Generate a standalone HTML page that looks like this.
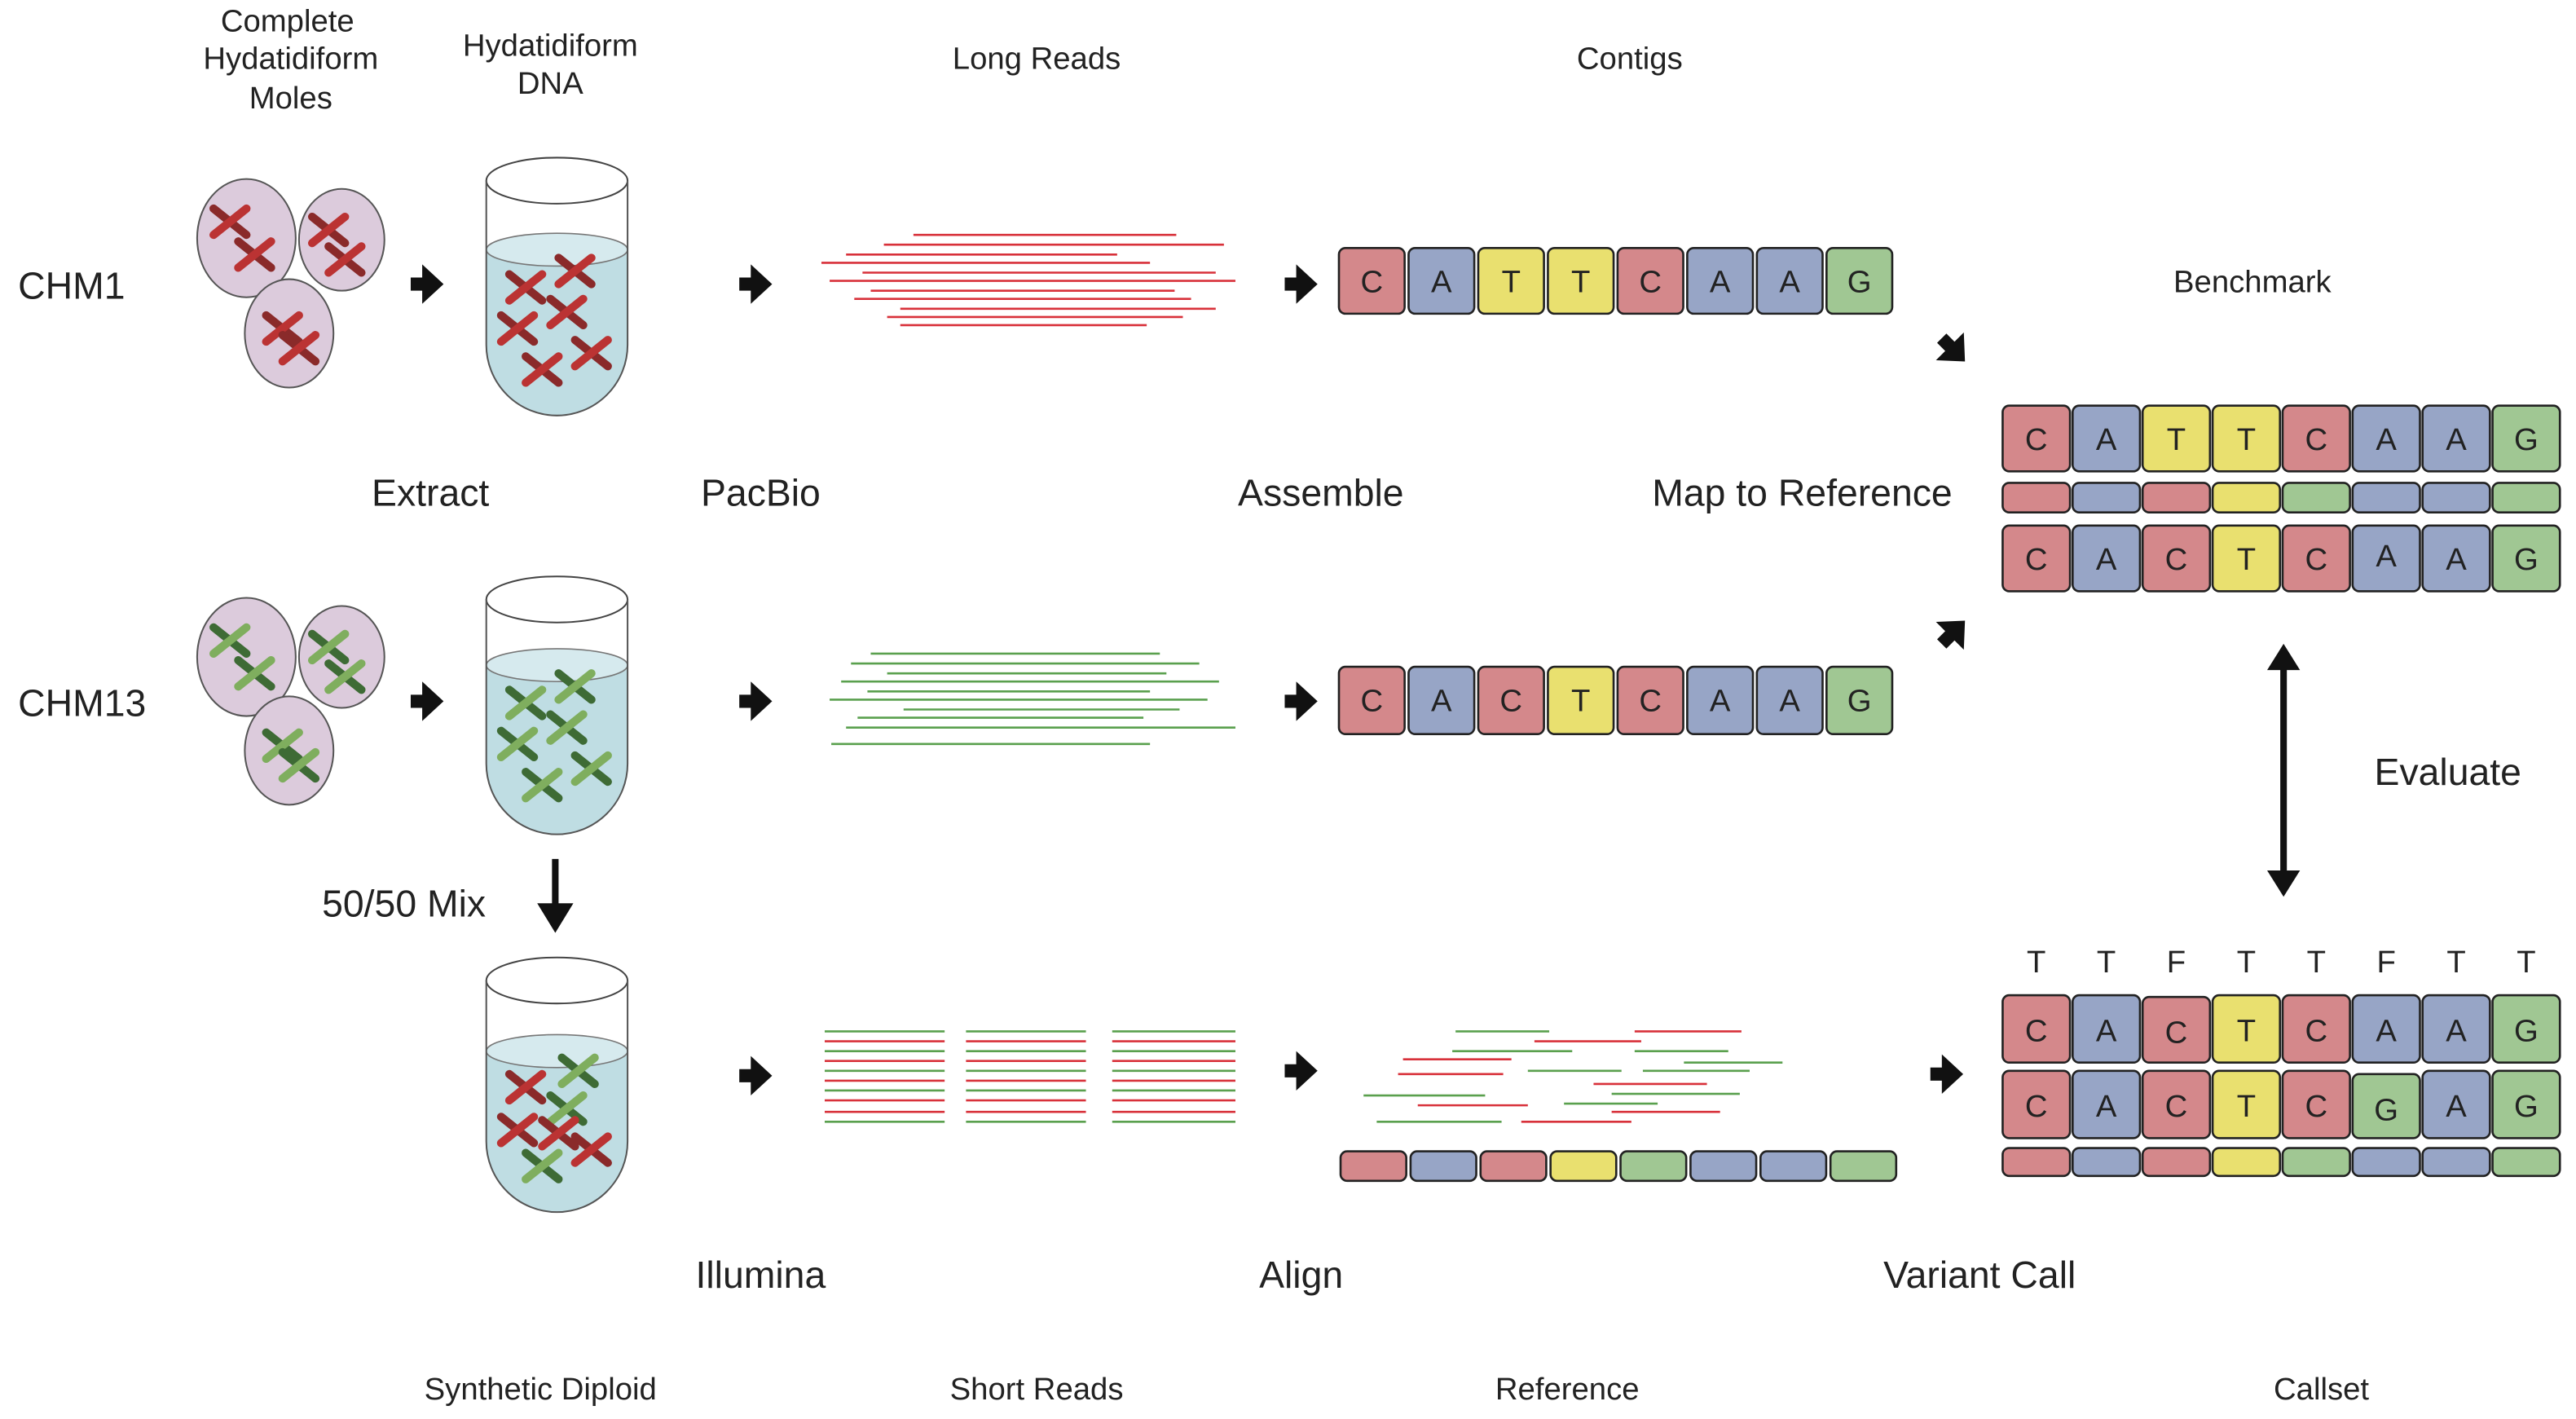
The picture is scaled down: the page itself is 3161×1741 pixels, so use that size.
<!DOCTYPE html>
<html><head><meta charset="utf-8"><style>
html,body{margin:0;padding:0;background:#fff;}
svg{display:block;}
text{font-family:"Liberation Sans",sans-serif;fill:#222;}
.l{font-size:23px;text-anchor:middle;}
.s{font-size:19px;text-anchor:middle;}
.c{font-size:19px;text-anchor:middle;fill:#222;}
.r{fill:#d4888b;stroke:#222;stroke-width:1.3;}
.b{fill:#97a5c6;stroke:#222;stroke-width:1.3;}
.y{fill:#e9e06f;stroke:#222;stroke-width:1.3;}
.g{fill:#a0c793;stroke:#222;stroke-width:1.3;}
.rd line{stroke:#d8313a;stroke-width:1.3;}
.gr line{stroke:#5aa04e;stroke-width:1.3;}
.mole{fill:#dccbdc;stroke:#555;stroke-width:1;}
.tube{fill:none;stroke:#555;stroke-width:1;}
</style></head><body>
<svg width="3161" height="1741" viewBox="0 0 1568 864" preserveAspectRatio="none" xmlns="http://www.w3.org/2000/svg">
<defs>
<path id="ar" d="M-10,-4 H-3 V-12 L10,0 L-3,12 V4 H-10 Z" fill="#111"/>
<g id="chR">
<line x1="-10" y1="-8" x2="10" y2="8" stroke="#8a2a2a" stroke-width="5" stroke-linecap="round"/>
<line x1="-10" y1="8" x2="10" y2="-8" stroke="#b33" stroke-width="5" stroke-linecap="round"/>
</g>
<g id="chG">
<line x1="-10" y1="-8" x2="10" y2="8" stroke="#3e6b35" stroke-width="5" stroke-linecap="round"/>
<line x1="-10" y1="8" x2="10" y2="-8" stroke="#7fae5e" stroke-width="5" stroke-linecap="round"/>
</g>
</defs>

<!-- headers -->
<text class="s" x="175" y="19">Complete</text>
<text class="s" x="177" y="42">Hydatidiform</text>
<text class="s" x="177" y="66">Moles</text>
<text class="s" x="335" y="34">Hydatidiform</text>
<text class="s" x="335" y="57">DNA</text>
<text class="s" x="631" y="42">Long Reads</text>
<text class="s" x="992" y="42">Contigs</text>
<text x="11" y="182" style="font-size:23px">CHM1</text>
<text x="11" y="436" style="font-size:23px">CHM13</text>
<text class="s" x="1371" y="178">Benchmark</text>
<text class="l" x="262" y="308">Extract</text>
<text class="l" x="463" y="308">PacBio</text>
<text class="l" x="804" y="308">Assemble</text>
<text class="l" x="1097" y="308">Map to Reference</text>
<text x="196" y="558" style="font-size:23px">50/50 Mix</text>
<text class="l" x="1490" y="478">Evaluate</text>
<text class="l" x="463" y="784">Illumina</text>
<text class="l" x="792" y="784">Align</text>
<text class="l" x="1205" y="784">Variant Call</text>
<text class="s" x="329" y="852">Synthetic Diploid</text>
<text class="s" x="631" y="852">Short Reads</text>
<text class="s" x="954" y="852">Reference</text>
<text class="s" x="1413" y="852">Callset</text>

<!-- moles CHM1 -->
<ellipse class="mole" cx="150" cy="145" rx="30" ry="36"/>
<ellipse class="mole" cx="208" cy="146" rx="26" ry="31"/>
<ellipse class="mole" cx="176" cy="203" rx="27" ry="33"/>
<use href="#chR" x="140" y="135"/><use href="#chR" x="155" y="155"/><use href="#chR" x="200" y="140"/><use href="#chR" x="210" y="158"/><use href="#chR" x="172" y="200"/><use href="#chR" x="182" y="212"/>
<!-- moles CHM13 -->
<ellipse class="mole" cx="150" cy="400" rx="30" ry="36"/>
<ellipse class="mole" cx="208" cy="400" rx="26" ry="31"/>
<ellipse class="mole" cx="176" cy="457" rx="27" ry="33"/>
<use href="#chG" x="140" y="390"/><use href="#chG" x="155" y="410"/><use href="#chG" x="200" y="394"/><use href="#chG" x="210" y="412"/><use href="#chG" x="172" y="454"/><use href="#chG" x="182" y="466"/>

<!-- tubes -->
<g>
<path d="M296,152 V210 A43,43 0 0 0 382,210 V152 Z" fill="#bfdde3"/>
<ellipse cx="339" cy="152" rx="43" ry="10" fill="#d6eaee" stroke="#777" stroke-width="0.8"/>
<use href="#chR" x="320" y="175"/><use href="#chR" x="345" y="190"/><use href="#chR" x="360" y="215"/><use href="#chR" x="330" y="225"/><use href="#chR" x="315" y="200"/><use href="#chR" x="350" y="165"/>
<ellipse cx="339" cy="110" rx="43" ry="14" fill="#fff" stroke="#444" stroke-width="1"/>
<path class="tube" d="M296,110 V210 A43,43 0 0 0 382,210 V110"/>
</g>
<g>
<path d="M296,405 V465 A43,43 0 0 0 382,465 V405 Z" fill="#bfdde3"/>
<ellipse cx="339" cy="405" rx="43" ry="10" fill="#d6eaee" stroke="#777" stroke-width="0.8"/>
<use href="#chG" x="320" y="428"/><use href="#chG" x="345" y="443"/><use href="#chG" x="360" y="468"/><use href="#chG" x="330" y="478"/><use href="#chG" x="315" y="453"/><use href="#chG" x="350" y="418"/>
<ellipse cx="339" cy="365" rx="43" ry="14" fill="#fff" stroke="#444" stroke-width="1"/>
<path class="tube" d="M296,365 V465 A43,43 0 0 0 382,465 V365"/>
</g>
<g>
<path d="M296,640 V695 A43,43 0 0 0 382,695 V640 Z" fill="#bfdde3"/>
<ellipse cx="339" cy="640" rx="43" ry="10" fill="#d6eaee" stroke="#777" stroke-width="0.8"/>
<use href="#chR" x="320" y="662"/><use href="#chG" x="345" y="675"/><use href="#chR" x="360" y="700"/><use href="#chG" x="330" y="710"/><use href="#chR" x="315" y="688"/><use href="#chG" x="352" y="652"/><use href="#chR" x="340" y="690"/>
<ellipse cx="339" cy="597" rx="43" ry="14" fill="#fff" stroke="#444" stroke-width="1"/>
<path class="tube" d="M296,597 V695 A43,43 0 0 0 382,695 V597"/>
</g>

<!-- arrows -->
<use href="#ar" x="260" y="173"/><use href="#ar" x="460" y="173"/><use href="#ar" x="792" y="173"/>
<use href="#ar" x="260" y="427"/><use href="#ar" x="460" y="427"/><use href="#ar" x="792" y="427"/>
<use href="#ar" x="460" y="655"/><use href="#ar" x="792" y="652"/><use href="#ar" x="1185" y="654"/>
<use href="#ar" transform="translate(1189,213) rotate(45)"/>
<use href="#ar" transform="translate(1189,385) rotate(-45)"/>
<path d="M336,523 H340 V550 H349 L338,568 L327,550 H336 Z" fill="#111"/>
<path d="M1388,408 V530 H1380 L1390,546 L1400,530 H1392 V408 H1400 L1390,392 L1380,408 Z" fill="#111"/>

<!-- long reads red -->
<g class="rd">
<line x1="556" y1="143" x2="716" y2="143"/><line x1="538" y1="149" x2="745" y2="149"/><line x1="515" y1="155" x2="680" y2="155"/><line x1="500" y1="160" x2="700" y2="160"/><line x1="525" y1="166" x2="740" y2="166"/><line x1="505" y1="171" x2="752" y2="171"/><line x1="530" y1="177" x2="715" y2="177"/><line x1="520" y1="182" x2="725" y2="182"/><line x1="548" y1="188" x2="740" y2="188"/><line x1="540" y1="193" x2="720" y2="193"/><line x1="548" y1="198" x2="698" y2="198"/>
</g>
<g class="gr">
<line x1="530" y1="398" x2="706" y2="398"/><line x1="518" y1="404" x2="730" y2="404"/><line x1="540" y1="410" x2="710" y2="410"/><line x1="512" y1="415" x2="742" y2="415"/><line x1="528" y1="421" x2="700" y2="421"/><line x1="505" y1="426" x2="735" y2="426"/><line x1="550" y1="432" x2="718" y2="432"/><line x1="522" y1="437" x2="696" y2="437"/><line x1="515" y1="443" x2="752" y2="443"/><line x1="506" y1="453" x2="700" y2="453"/>
</g>

<!-- short reads -->
<g class="gr">
<line x1="502" y1="628" x2="575" y2="628"/><line x1="502" y1="640" x2="575" y2="640"/><line x1="502" y1="652" x2="575" y2="652"/><line x1="502" y1="664" x2="575" y2="664"/><line x1="502" y1="683" x2="575" y2="683"/>
<line x1="588" y1="628" x2="661" y2="628"/><line x1="588" y1="640" x2="661" y2="640"/><line x1="588" y1="652" x2="661" y2="652"/><line x1="588" y1="664" x2="661" y2="664"/><line x1="588" y1="683" x2="661" y2="683"/>
<line x1="677" y1="628" x2="752" y2="628"/><line x1="677" y1="640" x2="752" y2="640"/><line x1="677" y1="652" x2="752" y2="652"/><line x1="677" y1="664" x2="752" y2="664"/><line x1="677" y1="683" x2="752" y2="683"/>
</g>
<g class="rd">
<line x1="502" y1="634" x2="575" y2="634"/><line x1="502" y1="646" x2="575" y2="646"/><line x1="502" y1="658" x2="575" y2="658"/><line x1="502" y1="670" x2="575" y2="670"/><line x1="502" y1="677" x2="575" y2="677"/>
<line x1="588" y1="634" x2="661" y2="634"/><line x1="588" y1="646" x2="661" y2="646"/><line x1="588" y1="658" x2="661" y2="658"/><line x1="588" y1="670" x2="661" y2="670"/><line x1="588" y1="677" x2="661" y2="677"/>
<line x1="677" y1="634" x2="752" y2="634"/><line x1="677" y1="646" x2="752" y2="646"/><line x1="677" y1="658" x2="752" y2="658"/><line x1="677" y1="670" x2="752" y2="670"/><line x1="677" y1="677" x2="752" y2="677"/>
</g>

<!-- aligned reads -->
<g class="gr">
<line x1="886" y1="628" x2="943" y2="628"/><line x1="884" y1="640" x2="957" y2="640"/><line x1="995" y1="640" x2="1052" y2="640"/><line x1="1025" y1="647" x2="1085" y2="647"/><line x1="930" y1="652" x2="987" y2="652"/><line x1="1000" y1="652" x2="1065" y2="652"/><line x1="830" y1="667" x2="904" y2="667"/><line x1="981" y1="666" x2="1059" y2="666"/><line x1="952" y1="672" x2="1009" y2="672"/><line x1="838" y1="683" x2="914" y2="683"/>
</g>
<g class="rd">
<line x1="995" y1="628" x2="1060" y2="628"/><line x1="934" y1="634" x2="999" y2="634"/><line x1="854" y1="645" x2="920" y2="645"/><line x1="851" y1="654" x2="915" y2="654"/><line x1="970" y1="660" x2="1039" y2="660"/><line x1="863" y1="673" x2="930" y2="673"/><line x1="981" y1="677" x2="1047" y2="677"/><line x1="926" y1="683" x2="993" y2="683"/>
</g>

<!-- CHM1 contig -->
<g>
<rect class="r" x="815" y="151" width="40" height="40" rx="4"/><rect class="b" x="857.4" y="151" width="40" height="40" rx="4"/><rect class="y" x="899.8" y="151" width="40" height="40" rx="4"/><rect class="y" x="942.2" y="151" width="40" height="40" rx="4"/><rect class="r" x="984.6" y="151" width="40" height="40" rx="4"/><rect class="b" x="1027" y="151" width="40" height="40" rx="4"/><rect class="b" x="1069.4" y="151" width="40" height="40" rx="4"/><rect class="g" x="1111.8" y="151" width="40" height="40" rx="4"/>
<text class="c" x="835" y="178">C</text><text class="c" x="877.4" y="178">A</text><text class="c" x="919.8" y="178">T</text><text class="c" x="962.2" y="178">T</text><text class="c" x="1004.6" y="178">C</text><text class="c" x="1047" y="178">A</text><text class="c" x="1089.4" y="178">A</text><text class="c" x="1131.8" y="178">G</text>
</g>
<!-- CHM13 contig -->
<g>
<rect class="r" x="815" y="406" width="40" height="41" rx="4"/><rect class="b" x="857.4" y="406" width="40" height="41" rx="4"/><rect class="r" x="899.8" y="406" width="40" height="41" rx="4"/><rect class="y" x="942.2" y="406" width="40" height="41" rx="4"/><rect class="r" x="984.6" y="406" width="40" height="41" rx="4"/><rect class="b" x="1027" y="406" width="40" height="41" rx="4"/><rect class="b" x="1069.4" y="406" width="40" height="41" rx="4"/><rect class="g" x="1111.8" y="406" width="40" height="41" rx="4"/>
<text class="c" x="835" y="433">C</text><text class="c" x="877.4" y="433">A</text><text class="c" x="919.8" y="433">C</text><text class="c" x="962.2" y="433">T</text><text class="c" x="1004.6" y="433">C</text><text class="c" x="1047" y="433">A</text><text class="c" x="1089.4" y="433">A</text><text class="c" x="1131.8" y="433">G</text>
</g>
<!-- reference bar -->
<g>
<rect class="r" x="816" y="701" width="40" height="18" rx="4"/><rect class="b" x="858.6" y="701" width="40" height="18" rx="4"/><rect class="r" x="901.2" y="701" width="40" height="18" rx="4"/><rect class="y" x="943.8" y="701" width="40" height="18" rx="4"/><rect class="g" x="986.4" y="701" width="40" height="18" rx="4"/><rect class="b" x="1029" y="701" width="40" height="18" rx="4"/><rect class="b" x="1071.6" y="701" width="40" height="18" rx="4"/><rect class="g" x="1114.2" y="701" width="40" height="18" rx="4"/>
</g>

<!-- Benchmark -->
<g>
<rect class="r" x="1219" y="247" width="41" height="40" rx="4"/><rect class="b" x="1261.6" y="247" width="41" height="40" rx="4"/><rect class="y" x="1304.2" y="247" width="41" height="40" rx="4"/><rect class="y" x="1346.8" y="247" width="41" height="40" rx="4"/><rect class="r" x="1389.4" y="247" width="41" height="40" rx="4"/><rect class="b" x="1432" y="247" width="41" height="40" rx="4"/><rect class="b" x="1474.6" y="247" width="41" height="40" rx="4"/><rect class="g" x="1517.2" y="247" width="41" height="40" rx="4"/>
<text class="c" x="1239.5" y="274">C</text><text class="c" x="1282.1" y="274">A</text><text class="c" x="1324.7" y="274">T</text><text class="c" x="1367.3" y="274">T</text><text class="c" x="1409.9" y="274">C</text><text class="c" x="1452.5" y="274">A</text><text class="c" x="1495.1" y="274">A</text><text class="c" x="1537.7" y="274">G</text>
<rect class="r" x="1219" y="294" width="41" height="18" rx="4"/><rect class="b" x="1261.6" y="294" width="41" height="18" rx="4"/><rect class="r" x="1304.2" y="294" width="41" height="18" rx="4"/><rect class="y" x="1346.8" y="294" width="41" height="18" rx="4"/><rect class="g" x="1389.4" y="294" width="41" height="18" rx="4"/><rect class="b" x="1432" y="294" width="41" height="18" rx="4"/><rect class="b" x="1474.6" y="294" width="41" height="18" rx="4"/><rect class="g" x="1517.2" y="294" width="41" height="18" rx="4"/>
<rect class="r" x="1219" y="320" width="41" height="40" rx="4"/><rect class="b" x="1261.6" y="320" width="41" height="40" rx="4"/><rect class="r" x="1304.2" y="320" width="41" height="40" rx="4"/><rect class="y" x="1346.8" y="320" width="41" height="40" rx="4"/><rect class="r" x="1389.4" y="320" width="41" height="40" rx="4"/><rect class="b" x="1432" y="320" width="41" height="40" rx="4"/><rect class="b" x="1474.6" y="320" width="41" height="40" rx="4"/><rect class="g" x="1517.2" y="320" width="41" height="40" rx="4"/>
<text class="c" x="1239.5" y="347">C</text><text class="c" x="1282.1" y="347">A</text><text class="c" x="1324.7" y="347">C</text><text class="c" x="1367.3" y="347">T</text><text class="c" x="1409.9" y="347">C</text><text class="c" x="1452.5" y="345">A</text><text class="c" x="1495.1" y="347">A</text><text class="c" x="1537.7" y="347">G</text>
</g>

<!-- Callset -->
<g>
<text class="c" x="1239.5" y="592">T</text><text class="c" x="1282.1" y="592">T</text><text class="c" x="1324.7" y="592">F</text><text class="c" x="1367.3" y="592">T</text><text class="c" x="1409.9" y="592">T</text><text class="c" x="1452.5" y="592">F</text><text class="c" x="1495.1" y="592">T</text><text class="c" x="1537.7" y="592">T</text>
<rect class="r" x="1219" y="606" width="41" height="41" rx="4"/><rect class="b" x="1261.6" y="606" width="41" height="41" rx="4"/><rect class="r" x="1304.2" y="607" width="41" height="40" rx="4"/><rect class="y" x="1346.8" y="606" width="41" height="41" rx="4"/><rect class="r" x="1389.4" y="606" width="41" height="41" rx="4"/><rect class="b" x="1432" y="606" width="41" height="41" rx="4"/><rect class="b" x="1474.6" y="606" width="41" height="41" rx="4"/><rect class="g" x="1517.2" y="606" width="41" height="41" rx="4"/>
<text class="c" x="1239.5" y="634">C</text><text class="c" x="1282.1" y="634">A</text><text class="c" x="1324.7" y="635">C</text><text class="c" x="1367.3" y="634">T</text><text class="c" x="1409.9" y="634">C</text><text class="c" x="1452.5" y="634">A</text><text class="c" x="1495.1" y="634">A</text><text class="c" x="1537.7" y="634">G</text>
<rect class="r" x="1219" y="652" width="41" height="41" rx="4"/><rect class="b" x="1261.6" y="652" width="41" height="41" rx="4"/><rect class="r" x="1304.2" y="652" width="41" height="41" rx="4"/><rect class="y" x="1346.8" y="652" width="41" height="41" rx="4"/><rect class="r" x="1389.4" y="652" width="41" height="41" rx="4"/><rect class="g" x="1432" y="654" width="41" height="39" rx="4"/><rect class="b" x="1474.6" y="652" width="41" height="41" rx="4"/><rect class="g" x="1517.2" y="652" width="41" height="41" rx="4"/>
<text class="c" x="1239.5" y="680">C</text><text class="c" x="1282.1" y="680">A</text><text class="c" x="1324.7" y="680">C</text><text class="c" x="1367.3" y="680">T</text><text class="c" x="1409.9" y="680">C</text><text class="c" x="1452.5" y="682">G</text><text class="c" x="1495.1" y="680">A</text><text class="c" x="1537.7" y="680">G</text>
<rect class="r" x="1219" y="699" width="41" height="17" rx="4"/><rect class="b" x="1261.6" y="699" width="41" height="17" rx="4"/><rect class="r" x="1304.2" y="699" width="41" height="17" rx="4"/><rect class="y" x="1346.8" y="699" width="41" height="17" rx="4"/><rect class="g" x="1389.4" y="699" width="41" height="17" rx="4"/><rect class="b" x="1432" y="699" width="41" height="17" rx="4"/><rect class="b" x="1474.6" y="699" width="41" height="17" rx="4"/><rect class="g" x="1517.2" y="699" width="41" height="17" rx="4"/>
</g>
</svg>
</body></html>
